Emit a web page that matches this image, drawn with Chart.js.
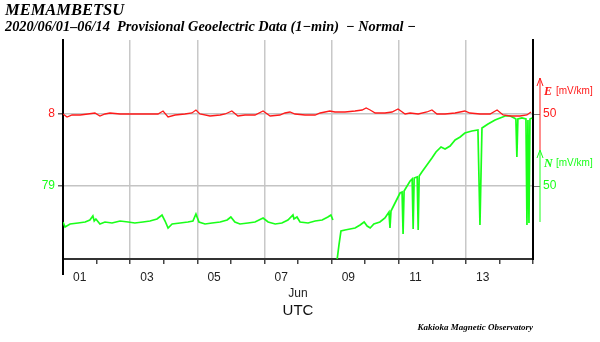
<!DOCTYPE html>
<html>
<head>
<meta charset="utf-8">
<script src="https://cdn.jsdelivr.net/npm/chart.js@4.4.1/dist/chart.umd.min.js"></script>
<style>
  html, body { margin: 0; padding: 0; background: #fff; }
  #wrap { width: 600px; height: 342px; position: relative; }
</style>
</head>
<body>
<div id="wrap"><canvas id="geoChart"></canvas></div>
<script>
// time in days of June (1.0 = 06/01 00:00 UTC), values in mV/km
var dayE = [1.00,1.12,1.27,1.51,1.74,1.95,2.10,2.25,2.40,2.70,2.99,3.29,3.59,3.83,3.98,4.13,4.34,4.63,4.84,4.96,
            5.08,5.38,5.68,5.83,6.03,6.21,6.42,6.72,6.96,7.17,7.46,7.61,7.76,7.91,8.21,8.51,8.66,8.95,9.10,9.40,
            9.70,9.91,10.03,10.15,10.30,10.59,10.80,10.98,11.19,11.34,11.58,11.84,11.99,12.14,12.38,12.68,12.97,
            13.12,13.42,13.72,13.93,14.11,14.32,14.61,14.82,14.94];
var valE = [50,47,49,49,50,51,48,50,51,50,50,50,50,50,53,47,49,50,51,54,
            50,48,49,50,53,48,49,49,53,48,49,51,52,50,49,49,51,53,52,52,
            53,54,56,54,51,51,52,55,50,51,50,52,54,50,50,51,53,
            51,50,50,54,49,48,48,49,52];

var dayN = [1.00,1.06,1.21,1.45,1.66,1.80,1.89,1.93,1.98,2.10,2.25,2.46,2.70,2.94,3.14,3.38,3.59,3.80,3.95,4.04,4.13,
            4.25,4.49,4.72,4.87,4.96,5.05,5.23,5.44,5.68,5.89,6.00,6.12,6.27,6.51,6.72,6.96,7.11,7.32,7.52,7.70,
            7.85,7.88,7.97,8.06,8.30,8.51,8.72,8.89,8.98,9.04,9.10,
            9.16,9.22,9.28,9.40,9.55,9.70,9.85,9.97,10.06,10.15,10.26,10.44,10.59,10.71,10.74,10.77,10.89,11.04,
            11.10,11.13,11.16,11.25,11.34,11.40,11.43,11.46,11.55,11.58,11.61,11.69,11.84,11.99,12.11,12.26,12.38,
            12.53,12.68,12.83,12.97,13.18,13.36,13.42,13.48,13.66,13.87,14.02,14.17,14.32,14.44,14.49,14.52,14.55,
            14.67,14.79,14.82,14.85,14.88,14.91,14.97];
var valN = [14,9,12,13,14,16,20,15,17,12,14,13,15,14,13,14,15,17,21,15,8,
            12,13,14,15,22,14,12,13,14,16,19,14,12,13,14,18,14,12,13,16,
            21,17,19,14,13,15,16,19,21,16,null,
            -25,-9,5,6,7,8,11,14,10,8,12,14,18,24,8,25,33,43,
            44,2,45,50,55,57,7,58,59,6,60,64,71,78,84,89,87,
            90,96,99,103,105,106,11,108,112,116,118,120,120,118,117,79,117,
            118,117,11,116,13,117,118];

var dayLabels = ['01','03','05','07','09','11','13'];
var labelDays = [1.5,3.5,5.5,7.5,9.5,11.5,13.5];
var leftTickLabels = ['8','79'];
var rightTickLabels = ['50','50'];
var tickValE = [50, -22];   // E-frame positions of E=50 and N=50
var scaleBar = [14, 86];    // mV/km span of the scale arrows

var RED = '#ff1a1a';
var GREEN = '#1aff1a';

function pts(xs, ys) {
  var out = [];
  for (var i in xs) out.push({x: xs[i], y: ys[i]});
  return out;
}

var textPlugin = {
  id: 'texts',
  afterDraw: function(chart) {
    var c = chart.ctx, a = chart.chartArea;
    var yE = chart.scales.yl, yN = chart.scales.yN;
    c.save();
    c.fillStyle = '#000';
    c.textAlign = 'left';
    c.textBaseline = 'alphabetic';
    c.font = 'bold italic 16.5px "Liberation Serif"';
    c.fillText('MEMAMBETSU', 5, 15);
    c.font = 'bold italic 14.3px "Liberation Serif"';
    c.fillText('2020/06/01\u201306/14  Provisional Geoelectric Data (1\u2212min)  \u2212 Normal \u2212', 5, 31);
    c.textAlign = 'right';
    c.font = 'bold italic 9px "Liberation Serif"';
    c.fillText('Kakioka Magnetic Observatory', a.right, 330);

    // left border runs on below the axis
    c.strokeStyle = '#000';
    c.lineWidth = 2;
    c.beginPath();
    c.moveTo(a.left, a.bottom);
    c.lineTo(a.left, a.bottom + 16);
    c.stroke();

    // scale arrows
    var ax = a.right + 7;
    function arrow(scale, col, label) {
      var y0 = scale.getPixelForValue(scaleBar[0]);
      var y1 = scale.getPixelForValue(scaleBar[1]);
      c.strokeStyle = col;
      c.lineWidth = 1;
      c.beginPath();
      c.moveTo(ax, y0); c.lineTo(ax, y1);
      c.moveTo(ax - 3, y1 + 8); c.lineTo(ax, y1); c.lineTo(ax + 3, y1 + 8);
      c.stroke();
      c.fillStyle = col;
      c.textAlign = 'left';
      c.font = 'bold italic 12px "Liberation Serif"';
      c.fillText(label, ax + 4, y1 + 17);
      c.font = '10px "Liberation Sans"';
      c.fillText('[mV/km]', ax + 16, y1 + 16);
    }
    arrow(yE, RED, 'E');
    arrow(yN, GREEN, 'N');
    c.restore();
  }
};

var ctx = document.getElementById('geoChart');
var chart = new Chart(ctx, {
  type: 'line',
  data: {
    datasets: [
      {
        label: 'E',
        data: pts(dayE, valE),
        borderColor: RED,
        borderWidth: 1.3,
        pointRadius: 0,
        tension: 0,
        yAxisID: 'yl',
        xAxisID: 'x'
      },
      {
        label: 'N',
        data: pts(dayN, valN),
        borderColor: GREEN,
        borderWidth: 1.7,
        pointRadius: 0,
        tension: 0,
        spanGaps: false,
        yAxisID: 'yN',
        xAxisID: 'x'
      }
    ]
  },
  options: {
    responsive: true,
    maintainAspectRatio: false,
    animation: false,
    layout: { padding: { top: 40, left: 5, right: 0, bottom: 22 } },
    plugins: { legend: { display: false }, tooltip: { enabled: false } },
    scales: {
      x: {
        type: 'linear', position: 'bottom', weight: 0,
        min: 1, max: 15,
        ticks: { stepSize: 1, display: false },
        grid: {
          color: function(c) { return (Math.round(c.tick.value) % 2 === 1) ? '#c8c8c8' : 'rgba(0,0,0,0)'; },
          lineWidth: 1.5,
          tickColor: '#444',
          tickLength: 5
        },
        border: { display: true, color: '#333', width: 2 },
        afterFit: function(s) { s.height = 6; }
      },
      xl: {
        type: 'linear', position: 'bottom', weight: 1,
        min: 1, max: 15,
        afterBuildTicks: function(s) { s.ticks = labelDays.map(function(v) { return {value: v}; }); },
        ticks: {
          autoSkip: false, maxRotation: 0, padding: 5,
          color: '#222', font: { family: 'Liberation Sans', size: 12 },
          callback: function(v, i) { return dayLabels[i]; }
        },
        grid: { display: false, drawTicks: false },
        border: { display: false },
        title: { display: true, text: 'Jun', color: '#222', font: { family: 'Liberation Sans', size: 12 }, padding: 0 },
        afterFit: function(s) { s.height = 36; }
      },
      xu: {
        type: 'linear', position: 'bottom', weight: 2,
        min: 1, max: 15,
        ticks: { display: false },
        grid: { display: false, drawTicks: false },
        border: { display: false },
        title: { display: true, text: 'UTC', color: '#111', font: { family: 'Liberation Sans', size: 15 }, padding: 0 },
        afterFit: function(s) { s.height = 19; }
      },
      yl: {
        position: 'left',
        min: -95, max: 124,
        afterBuildTicks: function(s) { s.ticks = tickValE.map(function(v) { return {value: v}; }); },
        ticks: {
          padding: 3,
          font: { family: 'Liberation Sans', size: 12 },
          color: function(c) { return c.index === 0 ? RED : GREEN; },
          callback: function(v, i) { return leftTickLabels[i]; }
        },
        grid: { color: '#c4c4c4', lineWidth: 1.5, tickColor: '#666', tickLength: 5 },
        border: { display: true, color: '#000', width: 2 },
        afterFit: function(s) { s.width = 58; }
      },
      yr: {
        position: 'right',
        min: -95, max: 124,
        afterBuildTicks: function(s) { s.ticks = tickValE.map(function(v) { return {value: v}; }); },
        ticks: {
          padding: 3,
          font: { family: 'Liberation Sans', size: 12 },
          color: function(c) { return c.index === 0 ? RED : GREEN; },
          callback: function(v, i) { return rightTickLabels[i]; }
        },
        grid: { drawOnChartArea: false, tickColor: '#777', tickLength: 7 },
        border: { display: true, color: '#000', width: 2 },
        afterFit: function(s) { s.width = 67; }
      },
      yN: {
        display: false,
        min: -23, max: 196
      }
    }
  },
  plugins: [textPlugin]
});
</script>
</body>
</html>
